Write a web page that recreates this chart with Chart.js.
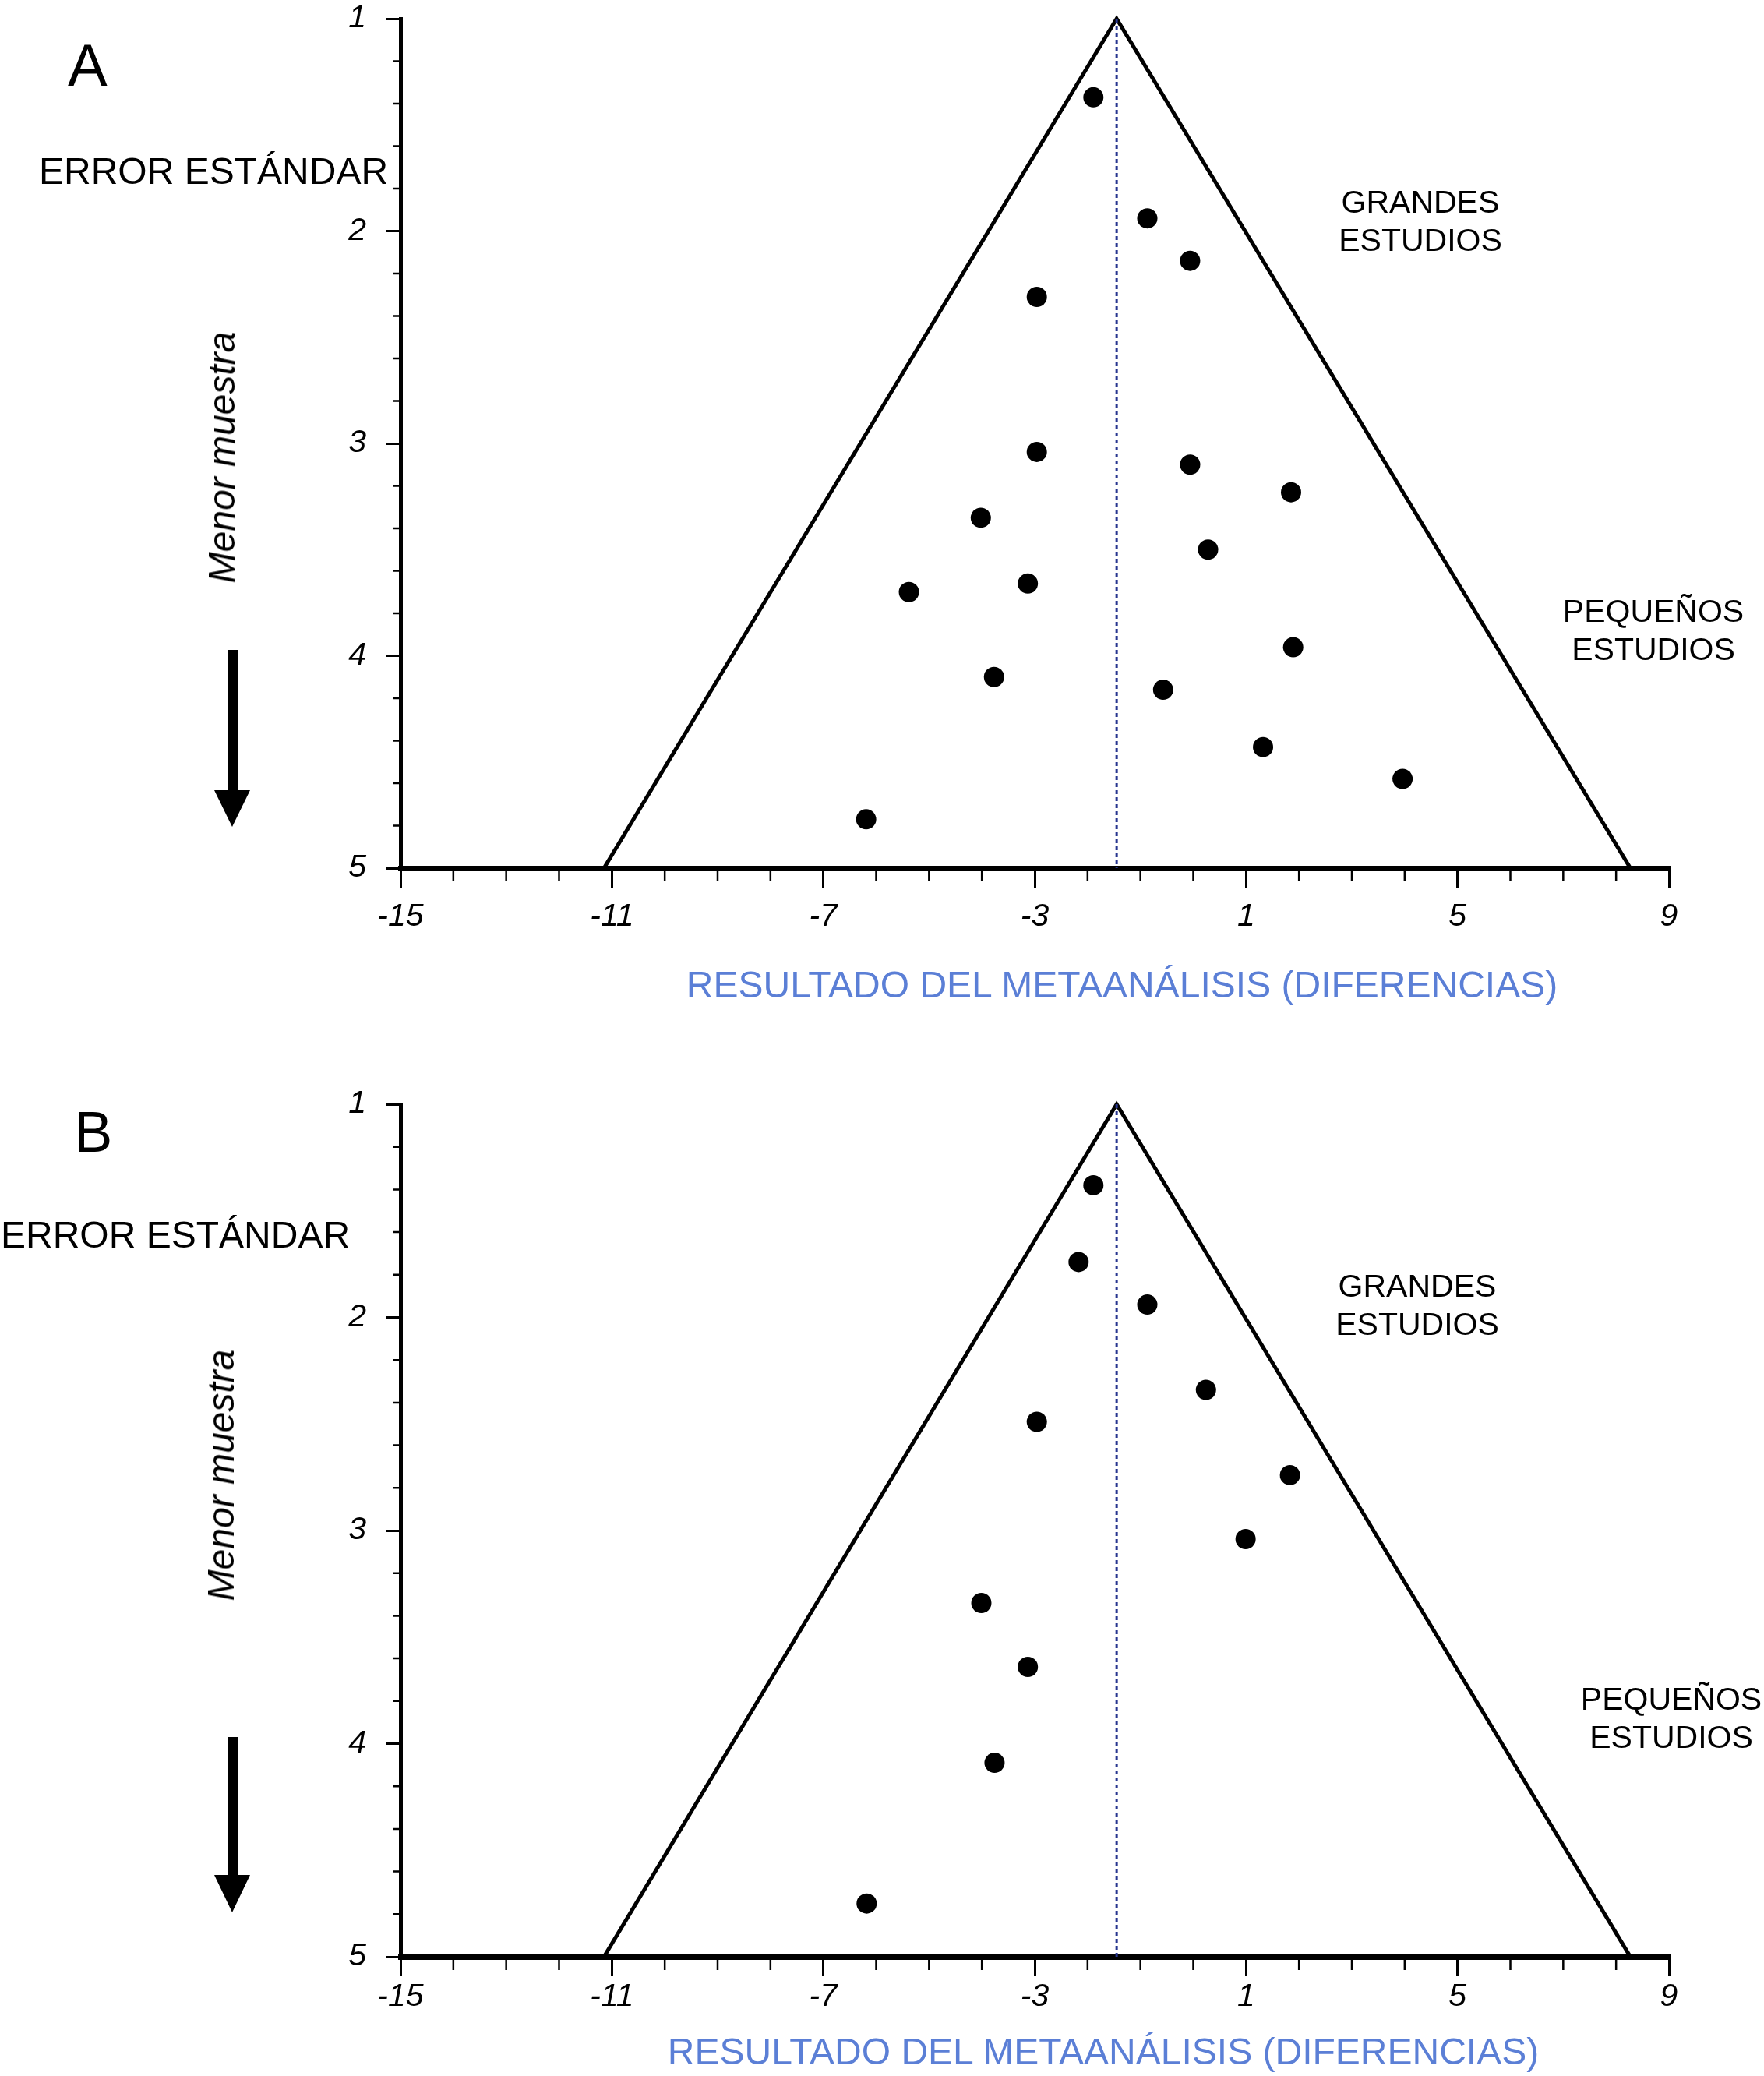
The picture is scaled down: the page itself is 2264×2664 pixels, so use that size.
<!DOCTYPE html>
<html>
<head>
<meta charset="utf-8">
<script src="https://cdn.jsdelivr.net/npm/chart.js@4.4.1/dist/chart.umd.min.js"></script>
<style>
html,body{margin:0;padding:0;background:#fff;}
body{width:2264px;height:2664px;position:relative;overflow:hidden;font-family:"Liberation Sans",Arial,Helvetica,sans-serif;}
canvas{position:absolute;left:0;}
.t{position:absolute;white-space:nowrap;line-height:1;color:#000;font-family:"Liberation Sans",Arial,sans-serif;}
.c2{position:absolute;white-space:nowrap;text-align:center;width:500px;font-size:41px;line-height:49px;color:#000;font-family:"Liberation Sans",Arial,sans-serif;}
.rot{position:absolute;white-space:nowrap;line-height:1;font-size:48px;font-style:italic;color:#000;transform:translate(-50%,-50%) rotate(-90deg);font-family:"Liberation Sans",Arial,sans-serif;}
.xt{position:absolute;white-space:nowrap;line-height:1;font-size:48px;color:#5b7fd6;width:1400px;text-align:center;font-family:"Liberation Sans",Arial,sans-serif;}
svg{position:absolute;left:0;top:0;pointer-events:none;}
</style>
</head>
<body>
<canvas id="chartA" width="2264" height="1393" style="top:0px;width:2264px;height:1393px"></canvas>
<canvas id="chartB" width="2264" height="1271" style="top:1393px;width:2264px;height:1271px"></canvas>

<!-- Panel A texts -->
<div class="t" style="left:87px;top:46px;font-size:76px;">A</div>
<div class="t" style="left:50px;top:196px;font-size:48px;">ERROR ESTÁNDAR</div>
<div class="c2" style="left:1573px;top:235px;">GRANDES<br>ESTUDIOS</div>
<div class="c2" style="left:1872px;top:760px;">PEQUEÑOS<br>ESTUDIOS</div>
<div class="rot" style="left:285px;top:587px;">Menor muestra</div>
<div class="xt" style="left:740px;top:1240px;">RESULTADO DEL METAANÁLISIS (DIFERENCIAS)</div>

<!-- Panel B texts -->
<div class="t" style="left:95px;top:1416px;font-size:74px;">B</div>
<div class="t" style="left:1px;top:1561px;font-size:48px;">ERROR ESTÁNDAR</div>
<div class="c2" style="left:1569px;top:1626px;">GRANDES<br>ESTUDIOS</div>
<div class="c2" style="left:1895px;top:2156px;">PEQUEÑOS<br>ESTUDIOS</div>
<div class="rot" style="left:284px;top:1893px;">Menor muestra</div>
<div class="xt" style="left:716px;top:2609px;">RESULTADO DEL METAANÁLISIS (DIFERENCIAS)</div>

<svg width="2264" height="2664" viewBox="0 0 2264 2664">
  <rect x="292" y="834" width="14" height="182" fill="#000"/>
  <polygon points="275,1014 321,1014 298,1061" fill="#000"/>
  <rect x="292" y="2229" width="14" height="179" fill="#000"/>
  <polygon points="275,2406 321,2406 298,2454" fill="#000"/>
</svg>

<script>
// ---------- data ----------
const panelAEffect = [-1.89, -0.87, -0.06, -2.96, -2.96, -0.06, 1.85, -4.02, 0.28, -5.38, -3.13, 1.89, -3.77, -0.57, 1.32, 3.96, -6.19];
const panelASE     = [ 1.37,  1.94,  2.14,  2.31,  3.04,  3.10, 3.23,  3.35, 3.50,  3.70,  3.66, 3.96,  4.10,  4.16, 4.43, 4.58,  4.77];
const panelBEffect = [-1.89, -2.17, -0.87, 0.24, -2.96, 1.83, 0.99, -4.01, -3.13, -3.76, -6.18];
const panelBSE     = [ 1.38,  1.74,  1.94, 2.34,  2.49, 2.74, 3.04,  3.34,  3.64,  4.09,  4.75];
const funnelEffect = [-11.15, -1.45, 8.27];
const funnelSE     = [5, 1, 5];
const pooledEffect = [-1.45, -1.45];
const pooledSE     = [1, 5];
const xMin = -15, xMax = 9, xMajorStep = 4, xMinorStep = 1;
const yMin = 1, yMax = 5, yMajorStep = 1, yMinorStep = 0.2;

// ---------- helpers ----------
function pts(xs, ys){ return xs.map((v,i)=>({x:v, y:ys[i]})); }

const minorTicks = {
  id: 'minorTicks',
  afterDraw(chart){
    const {ctx, chartArea, scales} = chart;
    const x = scales.x, y = scales.y;
    ctx.save();
    ctx.strokeStyle = '#000';
    ctx.lineWidth = 2.5;
    ctx.beginPath();
    for (let v = xMin; v <= xMax + 1e-9; v += xMinorStep){
      if (Math.abs(((v - xMin) / xMajorStep) - Math.round((v - xMin) / xMajorStep)) < 1e-6) continue;
      const px = x.getPixelForValue(v);
      ctx.moveTo(px, chartArea.bottom);
      ctx.lineTo(px, chartArea.bottom + 17);
    }
    const n = Math.round((yMax - yMin) / yMinorStep);
    for (let k = 0; k <= n; k++){
      const v = yMin + k * yMinorStep;
      if (Math.abs(v - Math.round(v)) < 1e-6) continue;
      const py = y.getPixelForValue(v);
      ctx.moveTo(chartArea.left - 9, py);
      ctx.lineTo(chartArea.left, py);
    }
    ctx.stroke();
    ctx.restore();
  }
};

function makeChart(id, effects, ses, cfg){
  const canvas = document.getElementById(id);
  const tickFont = {family: '"Liberation Sans", Arial, sans-serif', size: 41, style: 'italic'};
  const chart = new Chart(canvas, {
    type: 'scatter',
    data: {
      datasets: [
        {
          type: 'line',
          data: pts(funnelEffect, funnelSE),
          borderColor: '#000',
          borderWidth: 5,
          pointRadius: 0,
          fill: false,
          tension: 0,
          clip: false,
          order: 3
        },
        {
          type: 'line',
          data: pts(pooledEffect, pooledSE),
          borderColor: '#27358f',
          borderWidth: 3,
          borderDash: [5, 4],
          pointRadius: 0,
          fill: false,
          clip: false,
          order: 2
        },
        {
          type: 'scatter',
          data: pts(effects, ses),
          backgroundColor: '#000',
          borderColor: '#000',
          borderWidth: 0,
          pointRadius: 13,
          clip: false,
          order: 1
        }
      ]
    },
    options: {
      responsive: false,
      maintainAspectRatio: false,
      devicePixelRatio: 1,
      animation: false,
      events: [],
      layout: {padding: {left: 0, right: 122, top: cfg.top, bottom: 0}},
      plugins: {legend: {display: false}, tooltip: {enabled: false}, title: {display: false}},
      scales: {
        x: {
          type: 'linear',
          position: 'bottom',
          min: xMin, max: xMax,
          ticks: {stepSize: xMajorStep, color: '#000', font: tickFont, padding: cfg.xPad, maxRotation: 0, autoSkip: false},
          grid: {drawOnChartArea: false, drawTicks: true, tickLength: 25, tickWidth: 3, tickColor: '#000', color: '#000', lineWidth: 3},
          border: {display: true, color: '#000', width: 7},
          afterFit(s){ s.height = cfg.xAxisH; s.paddingTop = 0; s.paddingBottom = 0; }
        },
        y: {
          type: 'linear',
          position: 'left',
          reverse: true,
          min: yMin, max: yMax,
          ticks: {stepSize: yMajorStep, color: '#000', font: tickFont, padding: 26, autoSkip: false},
          grid: {drawOnChartArea: false, drawTicks: true, tickLength: 18, tickWidth: 3, tickColor: '#000', color: '#000', lineWidth: 3},
          border: {display: true, color: '#000', width: 5},
          afterFit(s){ s.width = 514; s.paddingTop = 0; s.paddingBottom = 0; }
        }
      }
    },
    plugins: [minorTicks]
  });
  // correct any residual offset so the plot area sits exactly where the reference has it
  for (let i = 0; i < 3; i++){
    const dTop = chart.chartArea.top - cfg.top;
    if (Math.abs(dTop) < 0.5) break;
    chart.options.layout.padding.top -= dTop;
    chart.update('none');
  }
  return chart;
}

makeChart('chartA', panelAEffect, panelASE, {top: 24, xAxisH: 1393 - 1114, xPad: 13});
makeChart('chartB', panelBEffect, panelBSE, {top: 24, xAxisH: 1271 - 1118, xPad: 2});
</script>
</body>
</html>
